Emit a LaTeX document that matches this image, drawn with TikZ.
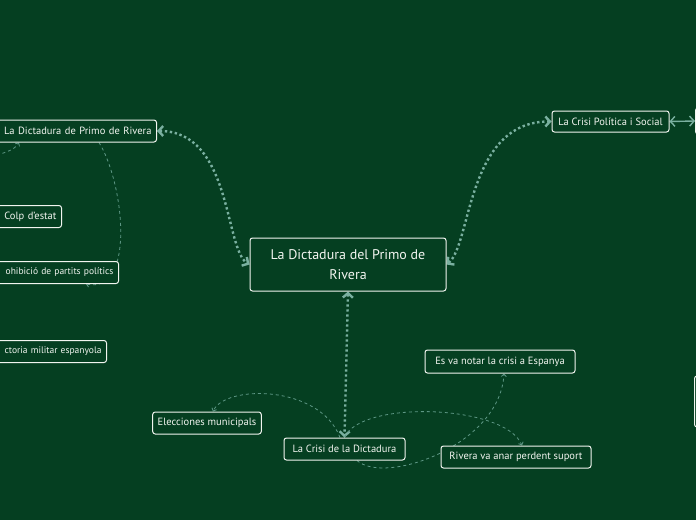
\documentclass[tikz,border=0pt]{standalone}
\usepackage{fontspec}
\setmainfont{PT Sans}
\usetikzlibrary{arrows.meta,positioning,backgrounds}
\definecolor{board}{HTML}{053F21}
\definecolor{chalk}{HTML}{F2F5F0}
\definecolor{mint}{HTML}{7AB0A0}
\definecolor{sage}{HTML}{5E9785}

\begin{document}
\begin{tikzpicture}[x=1pt,y=-1pt,
 b/.style={draw=chalk,line width=1pt,fill=board,rounded corners=2.5pt,text=chalk,font=\fontsize{10.5}{12}\selectfont,minimum height=22pt,inner xsep=5pt,inner ysep=2pt},
 cut/.style={b,anchor=east,align=right,text width=170pt},
 arr/.style={{Straight Barb[length=4.5pt,width=10pt]}-{Straight Barb[length=4.5pt,width=10pt]},draw=mint,line width=2.4pt,dash pattern=on 2.4pt off 2.6pt},
 tie/.style={-{Straight Barb[length=2.5pt,width=5pt]},draw=sage,line width=0.8pt,dash pattern=on 3pt off 3pt}]
\useasboundingbox (0,0) rectangle (696,520);
% central topic
\node[b,minimum width=196pt,minimum height=53pt,align=center,font=\fontsize{14}{20}\selectfont] (main) at (348,264.5) {La Dictadura del Primo de\\Rivera};
% left branch
\node[cut] (dictprimo) at (157,131) {La Dictadura de Primo de Rivera};
\node[cut] (colp) at (62,216.5) {Colp d'estat};
\node[cut,font=\fontsize{9.5}{11}\selectfont] (prohib) at (119,272.5) {ohibició de partits polítics};
\node[cut,font=\fontsize{9.5}{11}\selectfont] (victoria) at (107,351.5) {ctoria militar espanyola};
% right branch
\node[b,minimum width=117pt,minimum height=21pt] (politica) at (610.5,121.5) {La Crisi Política i Social};
\node[b,anchor=west,minimum width=40pt,minimum height=26pt] (politicaR) at (695,121) {};
\node[b,anchor=west,minimum width=40pt,minimum height=51pt] (extraR) at (694,401.5) {};
% bottom branch
\node[b,minimum width=121pt] (crisidict) at (344.5,449) {La Crisi de la Dictadura};
\node[b,minimum width=104pt] (elecc) at (207,423) {Elecciones municipals};
\node[b,minimum width=150pt,minimum height=23pt] (esvanotar) at (500,361.5) {Es va notar la crisi a Espanya};
\node[b,minimum width=150pt] (rivera) at (516,457) {Rivera va anar perdent suport};
\coordinate (offleft) at (-15,158);
\begin{scope}[on background layer]
\fill[board] (0,0) rectangle (696,520);
\draw[arr] (dictprimo.east) .. controls +(75,0) and +(-25,-15) .. (main.west);
\draw[arr] (main.east) .. controls +(25,-20) and +(-85,0) .. (politica.west);
\draw[arr] (main.south) -- (crisidict.north);
\draw[arr,solid,line width=1.4pt] (politica.east) -- (politicaR.west);
% loose links
\draw[tie] ([xshift=32.5pt]dictprimo.south) .. controls +(25,40) and +(50,10) .. ([xshift=57.5pt]prohib.south);
\draw[tie] (offleft) .. controls +(20,-5) and +(-5,8) .. ([xshift=-47.5pt]dictprimo.south);
\draw[tie] ([xshift=-4.5pt]crisidict.north) .. controls +(-20,-53) and +(12,-27) .. ([xshift=6pt]elecc.north);
\draw[tie] (crisidict.north) .. controls +(16,-38) and +(-17,-41) .. ([xshift=6pt]rivera.north);
\draw[tie] ([xshift=12.5pt]crisidict.south) .. controls +(28,25) and +(-4,72) .. ([xshift=4pt]esvanotar.south);
\end{scope}
\end{tikzpicture}
\end{document}
